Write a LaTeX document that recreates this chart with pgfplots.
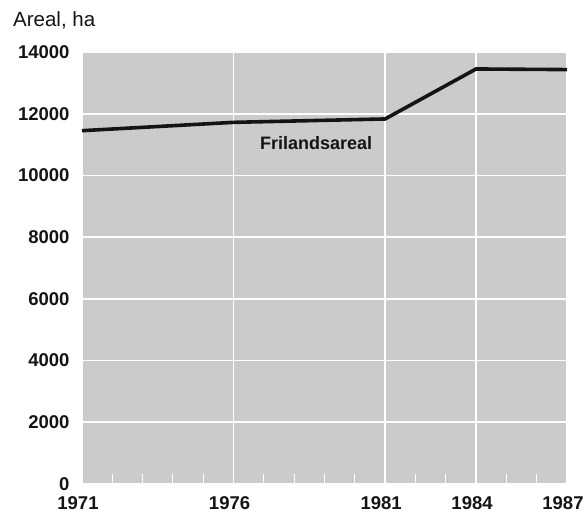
\documentclass[border=0pt]{standalone}
\usepackage{pgfplots}
\pgfplotsset{compat=1.18}
\usepackage{fontspec}
\setmainfont{Liberation Sans}
\definecolor{bggray}{RGB}{203,203,203}
\definecolor{ink}{RGB}{20,20,20}
\begin{document}
\begin{tikzpicture}
\path[use as bounding box] (-82pt,-30pt) rectangle (505pt,484pt);
\begin{axis}[
  at={(0pt,0pt)}, anchor=south west,
  scale only axis, width=485pt, height=432pt,
  xmin=1971, xmax=1987, ymin=0, ymax=14000,
  axis background/.style={fill=bggray},
  axis line style={draw=none},
  xtick={1971,1976,1981,1984,1987},
  ytick={0,2000,4000,6000,8000,10000,12000,14000},
  minor xtick={1972,1973,1974,1975,1977,1978,1979,1980,1982,1983,1985,1986},
  xtick pos=bottom, ytick pos=left,
  major tick length=0pt,
  minor tick length=10pt,
  tick align=inside,
  every minor tick/.style={white, line width=1pt},
  grid=major,
  major grid style={white, line width=1.6pt},
  /pgf/number format/assume math mode=true,
  scaled y ticks=false,
  yticklabel style={/pgf/number format/1000 sep={}, font=\fontsize{18.5}{20}\selectfont\bfseries, text=ink, xshift=-9pt},
  xticklabel style={/pgf/number format/1000 sep={}, font=\fontsize{18.5}{20}\selectfont\bfseries, text=ink, yshift=-9pt, xshift=-4pt},
  clip=false,
]
\addplot[ink, line width=3.6pt, line join=round] coordinates {
  (1971,11450) (1976,11720) (1981,11830) (1984,13450) (1987,13430)
};
\node[anchor=base west, font=\fontsize{18}{20}\selectfont\bfseries, text=ink, inner sep=0pt] at (axis cs:1976.87,10850) {Frilandsareal};
\node[anchor=base west, font=\fontsize{20.5}{22}\selectfont, text=ink, inner sep=0pt] at (rel axis cs:0,1) [xshift=-69pt, yshift=25pt] {Areal, ha};
\end{axis}
\end{tikzpicture}
\end{document}
